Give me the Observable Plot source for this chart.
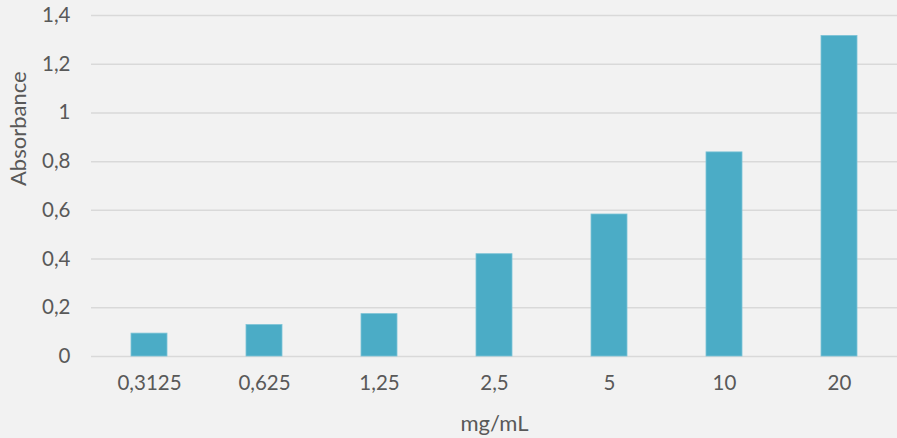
<!DOCTYPE html>
<html>
<head>
<meta charset="utf-8">
<script src="https://cdn.jsdelivr.net/npm/d3@7"></script>
<script src="https://cdn.jsdelivr.net/npm/@observablehq/plot@0.6"></script>
<style>
  html, body { margin: 0; padding: 0; background: #f2f2f2; }
  #chart svg { display: block; }
</style>
</head>
<body>
<div id="chart"></div>
<script>
const categories = ["0,3125", "0,625", "1,25", "2,5", "5", "10", "20"];
const absorbance = [0.094, 0.129, 0.174, 0.42, 0.583, 0.838, 1.316];
const yTicks = [0, 0.2, 0.4, 0.6, 0.8, 1, 1.2, 1.4];
const yLabel = "Absorbance";
const xLabel = "mg/mL";

const data = categories.map((c, i) => ({conc: c, value: absorbance[i]}));
const fmt = d => String(d).replace(".", ",");

const chart = Plot.plot({
  width: 897,
  height: 438,
  marginLeft: 91,
  marginRight: 0,
  marginTop: 15,
  marginBottom: 82,
  style: {background: "#f2f2f2", fontFamily: "Lato, 'Open Sans', sans-serif", fontSize: "20.5px", color: "#595959"},
  x: {domain: categories, paddingInner: 0.685, paddingOuter: 0.3425},
  y: {domain: [0, 1.4]},
  marks: [
    Plot.ruleY(yTicks, {stroke: "#d9d9d9", strokeWidth: 1.5}),
    Plot.barY(data, {x: "conc", y: "value", fill: "#4bacc6", stroke: "#7cc3d6", strokeWidth: 0.8}),
    Plot.axisY({ticks: yTicks, tickFormat: fmt, tickSize: 0, tickPadding: 21, label: null, fill: "#595959"}),
    Plot.axisX({tickSize: 0, tickPadding: 19, label: null, fill: "#595959"}),
    Plot.text([yLabel], {frameAnchor: "left", dx: -73, rotate: -90, fill: "#595959", fontSize: 22}),
    Plot.text([xLabel], {frameAnchor: "bottom", dy: 74, fill: "#595959", fontSize: 22})
  ]
});
document.getElementById("chart").appendChild(chart);
</script>
</body>
</html>
